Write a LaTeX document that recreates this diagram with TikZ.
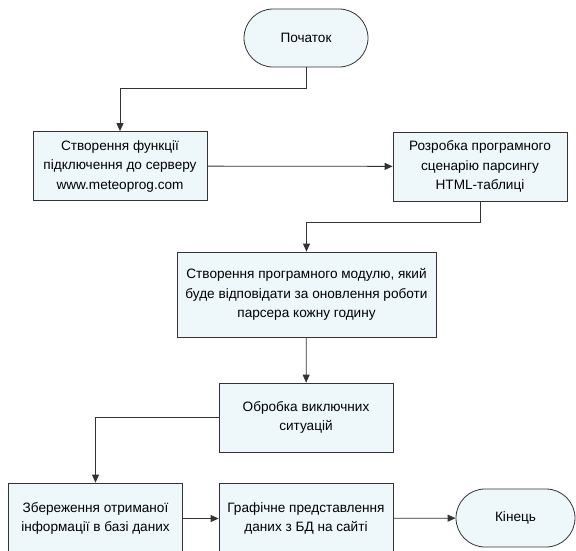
\documentclass[tikz,border=0pt]{standalone}
\usepackage{fontspec}
\setmainfont{Liberation Sans}
\usepackage{xcolor}
\definecolor{lineCol}     {HTML}{333333}
\definecolor{boxBack}     {HTML}{EEF7FA}
\usetikzlibrary{arrows.meta, positioning, calc}
\tikzset{
    block/.style={rectangle, draw=lineCol, fill=boxBack, line width=0.8pt,
                  minimum width=174pt, minimum height=69pt, inner sep=2pt,
                  align=center, font=\fontsize{13.6}{19.5}\selectfont},
    wideblock/.style={block, minimum width=259pt, minimum height=85pt},
    lowblock/.style={block, minimum height=71pt},
    terminal/.style={block, rounded corners=29pt, minimum width=124pt,
                     minimum height=58pt},
    flow/.style={-{Triangle[length=8pt, width=7pt]}, draw=lineCol,
                 line width=0.8pt},
}

\begin{document}
\begin{tikzpicture}[x=1pt, y=-1pt]
    \useasboundingbox (0,0) rectangle (576,550);
    \node[terminal] (start) at (306,38) {Початок};
    \node[block] (create) at (120,166)
        {Створення функції\\підключення до серверу\\www.meteoprog.com};
    \node[block] (parse) at (480,166.5)
        {Розробка програмного\\сценарію парсингу\\HTML-таблиці};
    \node[wideblock] (module) at (306.5,294.5)
        {Створення програмного модулю, який\\буде відповідати за оновлення роботи\\парсера кожну годину};
    \node[block] (except) at (306,417.5) {Обробка виключних\\ситуацій};
    \node[lowblock] (store) at (95.5,518.5)
        {Збереження отриманої\\інформації в базі даних};
    \node[lowblock] (plot) at (306,518.5)
        {Графічне представлення\\даних з БД на сайті};
    \node[terminal, minimum width=119pt] (stop) at (515.5,518) {Кінець};
    \draw[flow] (start.south) -- ++(0,21) -| (create.north);
    \draw[flow] (create) -- (parse);
    \draw[flow] (parse.south) -- ++(0,21) -| (module.north);
    \draw[flow] (module) -- (except);
    \draw[flow] (except.west) -| (store.north);
    \draw[flow] (store) -- (plot);
    \draw[flow] (plot) -- (stop);
\end{tikzpicture}
\end{document}
